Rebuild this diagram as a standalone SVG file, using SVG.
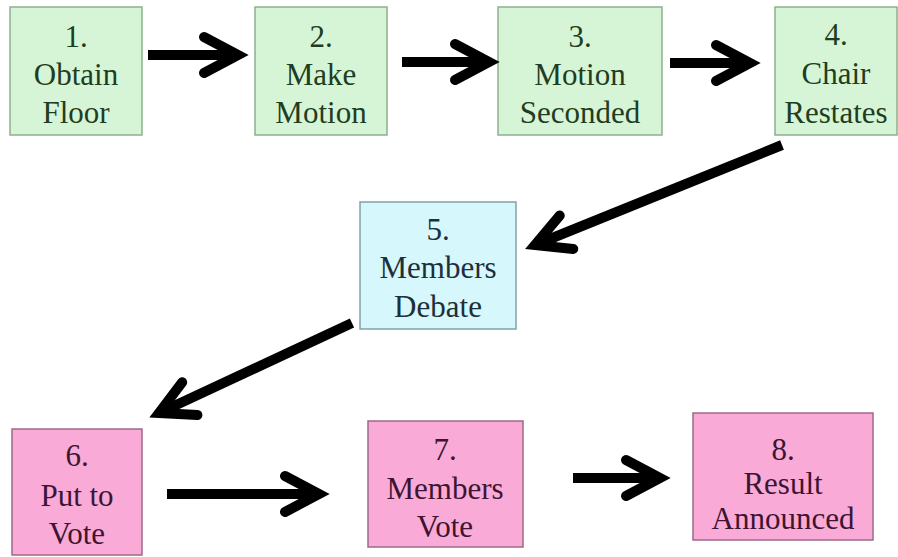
<svg xmlns="http://www.w3.org/2000/svg" width="898" height="557" viewBox="0 0 898 557">
<style>
  .g rect { fill: #d6f5d6; stroke: #8fae8f; stroke-width: 1.5; }
  .g text { fill: #1f3d22; }
  .b rect { fill: #d6f7fb; stroke: #7fa3aa; stroke-width: 1.5; }
  .b text { fill: #1d2f3a; }
  .p rect { fill: #f9aad6; stroke: #9c6a86; stroke-width: 1.5; }
  .p text { fill: #3d1532; }
  .conn line { stroke: #000; stroke-width: 10; marker-end: url(#ah); }
</style>
<defs>
  <marker id="ah" markerUnits="userSpaceOnUse" orient="auto" overflow="visible" refX="0" refY="0" markerWidth="1" markerHeight="1">
    <path d="M-34,-18 L0,0 L-34,18" fill="none" stroke="#000" stroke-width="10" stroke-linecap="round" stroke-linejoin="miter"/>
  </marker>
</defs>
<rect width="898" height="557" fill="#fff"/>
<g font-family="Liberation Serif, DejaVu Serif, serif" font-size="31" text-anchor="middle">
<g id="n1" class="g"><rect x="10" y="7" width="132" height="128"/>
  <text x="76" y="47">1.</text><text x="76" y="85">Obtain</text><text x="76" y="123">Floor</text></g>
<g id="n2" class="g"><rect x="255" y="7" width="132" height="128"/>
  <text x="321" y="47">2.</text><text x="321" y="85">Make</text><text x="321" y="123">Motion</text></g>
<g id="n3" class="g"><rect x="498" y="7" width="164" height="128"/>
  <text x="580" y="47">3.</text><text x="580" y="85">Motion</text><text x="580" y="123">Seconded</text></g>
<g id="n4" class="g"><rect x="775" y="7" width="122" height="128"/>
  <text x="836" y="45">4.</text><text x="836" y="84">Chair</text><text x="836" y="123">Restates</text></g>
<g id="n5" class="b"><rect x="360" y="202" width="156" height="127"/>
  <text x="438" y="240">5.</text><text x="438" y="278">Members</text><text x="438" y="317">Debate</text></g>
<g id="n6" class="p"><rect x="12" y="429" width="130" height="126"/>
  <text x="77" y="466">6.</text><text x="77" y="506">Put to</text><text x="77" y="544">Vote</text></g>
<g id="n7" class="p"><rect x="368" y="421" width="155" height="126"/>
  <text x="445" y="460">7.</text><text x="445" y="499">Members</text><text x="445" y="537">Vote</text></g>
<g id="n8" class="p"><rect x="693" y="413" width="180" height="127"/>
  <text x="783" y="460">8.</text><text x="783" y="494">Result</text><text x="783" y="529">Announced</text></g>
</g>
<g id="connectors" class="conn">
  <line x1="148" y1="55" x2="238" y2="55"/>
  <line x1="402" y1="62" x2="489" y2="62"/>
  <line x1="670" y1="63" x2="750" y2="63"/>
  <line x1="782" y1="145" x2="535" y2="245"/>
  <line x1="352" y1="323" x2="159" y2="413"/>
  <line x1="167" y1="494" x2="319" y2="494"/>
  <line x1="573" y1="478" x2="660" y2="478"/>
</g>
</svg>
